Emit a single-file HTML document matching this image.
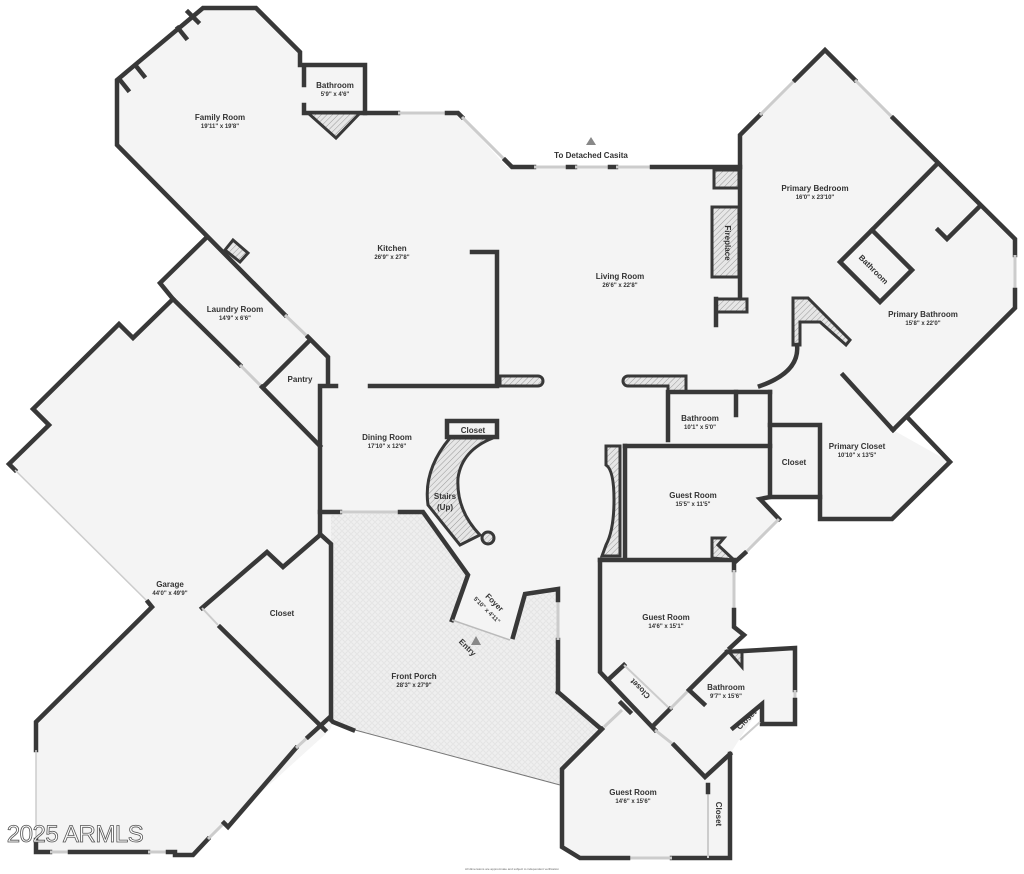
<!DOCTYPE html>
<html><head><meta charset="utf-8"><style>
html,body{margin:0;padding:0;background:#fff;}
svg{display:block;}
text{font-family:"Liberation Sans",sans-serif;fill:#333;text-anchor:middle;}
.t{font-size:8px;font-weight:bold;}
.d{font-size:6px;font-weight:bold;}
.w{fill:none;stroke:#383838;stroke-width:4.5;stroke-linejoin:miter;stroke-linecap:square;}
.win{fill:none;stroke:#ccc;stroke-width:3;}
.h{fill:url(#hatch);stroke:#383838;stroke-width:3;}
</style></head><body>
<svg width="1024" height="874" viewBox="0 0 1024 874" xmlns="http://www.w3.org/2000/svg">
<defs>
<pattern id="hatch" width="4" height="4" patternUnits="userSpaceOnUse" patternTransform="rotate(45)">
<rect width="4" height="4" fill="#e6e6e6"/><line x1="0" y1="0" x2="0" y2="4" stroke="#999" stroke-width="1"/></pattern>
<pattern id="dots" width="6" height="6" patternUnits="userSpaceOnUse">
<rect width="6" height="6" fill="#efefef"/><circle cx="3" cy="3" r="2.3" fill="none" stroke="#e0e0e0" stroke-width="0.8"/></pattern>
</defs>
<!-- floor -->
<polygon fill="#f4f4f4" points="203,8 256,8 300,52 300,65 365,65 365,113 458,113 507,167 740,167 740,135 825,50 1015,239 1015,308 893,430 950,462 892,519 820,519 820,497 770,497 760,499 779,519 734,560 734,627 744,635 730,648 795,648 795,724 762,724 762,704 730,754 730,858 580,858 562,847 562,769 560,785 355,730 333,722 330,730 193,854 36,852 36,722 152,607 148,602 15,470 9,464 49,425 33,409 119,324 133,338 173,299 160,283 207,237 117,145 117,80"/>
<polygon fill="url(#dots)" points="331,515 423,512 468,575 452,620 510,640 525,594 558,589 558,692 600,728 562,769 560,785 355,730 333,722"/>
<!-- outer walls -->
<polyline class="w" points="300,65 300,52 256,8 203,8 117,80 117,145 285,315"/>
<line x1="285" y1="315" x2="308" y2="337" class="win"/>
<polyline class="w" points="308,337 328,357 328,385"/>
<polyline class="w" points="365,113 398,113"/><line x1="398" y1="113" x2="447" y2="113" class="win"/><polyline class="w" points="447,113 458,113 462,117"/>
<line x1="462" y1="117" x2="505" y2="160" class="win"/>
<polyline class="w" points="505,160 512,167 534,167"/><line x1="534" y1="167" x2="568" y2="167" class="win"/>
<polyline class="w" points="568,167 575,167"/><line x1="575" y1="167" x2="610" y2="167" class="win"/><polyline class="w" points="610,167 616,167"/><line x1="616" y1="167" x2="652" y2="167" class="win"/>
<polyline class="w" points="652,167 740,167 740,298"/>
<polyline class="w" points="740,167 740,135 760,115"/><line x1="760" y1="115" x2="795" y2="80" class="win"/>
<polyline class="w" points="795,80 825,50 855,80"/><line x1="855" y1="80" x2="893" y2="118" class="win"/>
<polyline class="w" points="893,118 1015,239 1015,255"/><line x1="1015" y1="255" x2="1015" y2="290" class="win"/>
<polyline class="w" points="1015,290 1015,308 893,430"/>
<polyline class="w" points="908,418 950,462 892,519 820,519 820,425 770,425"/>
<polyline class="w" points="770,392 770,497 820,497"/>
<polyline class="w" points="770,497 760,499 779,519"/><line x1="779" y1="519" x2="745" y2="553" class="win"/>
<polyline class="w" points="745,553 734,563 734,570"/><line x1="734" y1="570" x2="734" y2="610" class="win"/>
<polyline class="w" points="734,610 734,627 744,635 730,648"/>
<polyline class="w" points="727,652 795,648 795,690"/><line x1="795" y1="690" x2="795" y2="700" class="win"/>
<polyline class="w" points="795,700 795,724 762,724 762,704 733,728"/>
<polyline class="w" points="730,754 730,858 672,858"/>
<line x1="628" y1="858" x2="672" y2="858" class="win"/>
<polyline class="w" points="628,858 580,858 562,847 562,769 602,729"/>
<line x1="604" y1="727" x2="622" y2="710" class="win"/>
<line x1="621" y1="703" x2="630" y2="712" class="w"/>
<line x1="600" y1="728" x2="558" y2="692" class="w"/>
<polyline class="w" points="558,692 558,640"/><line x1="558" y1="640" x2="558" y2="600" class="win"/>
<polyline class="w" points="558,600 558,589 525,594 513,637"/>
<line x1="355" y1="730" x2="560" y2="785" stroke="#777" stroke-width="1"/>
<polyline class="w" points="353,730 333,722 331,720 331,544 320,534 320,386 336,386"/>
<!-- garage -->
<polyline class="w" points="173,299 160,283 207,237"/>
<polyline class="w" points="173,299 240,365"/><line x1="240" y1="365" x2="262" y2="387" class="win"/>
<polyline class="w" points="262,387 320,446"/>
<polyline class="w" points="173,299 133,338 119,324 33,409 49,425 9,464 15,470"/>
<line x1="15" y1="470" x2="148" y2="602" stroke="#ccc" stroke-width="1.5"/>
<polyline class="w" points="148,602 152,607 36,722 36,750"/>
<line x1="36" y1="750" x2="36" y2="852" stroke="#ccc" stroke-width="1.5"/>
<polyline class="w" points="36,840 36,852 50,852"/><line x1="50" y1="852" x2="70" y2="852" class="win"/>
<polyline class="w" points="70,852 148,852"/><line x1="148" y1="852" x2="168" y2="852" class="win"/>
<polyline class="w" points="168,852 175,852 175,855 193,855 208,839"/><line x1="208" y1="839" x2="224" y2="823" class="win"/>
<polyline class="w" points="224,823 228,827 296,748"/><line x1="296" y1="748" x2="308" y2="737" class="win"/>
<polyline class="w" points="308,737 330,717"/>
<polyline class="w" points="202,608 267,552 283,567 320,535"/>
<line x1="202" y1="608" x2="218" y2="625" stroke="#ccc" stroke-width="2"/>
<polyline class="w" points="220,627 325,730"/>
<!-- family bathroom -->
<polyline class="w" points="304,85 304,65 365,65 365,113 304,113 304,105"/>
<polygon class="h" points="308,113 360,113 336,138"/>
<line x1="188" y1="12" x2="198" y2="22" class="w"/><line x1="178" y1="28" x2="186" y2="38" class="w"/><line x1="136" y1="66" x2="144" y2="76" class="w"/><line x1="120" y1="80" x2="128" y2="90" class="w"/>
<polygon class="h" points="225,250 233,240 248,253 240,262"/>
<!-- laundry/pantry -->
<polyline class="w" points="263,387 310,340"/>
<!-- kitchen -->
<polyline class="w" points="472,252 497,252 497,386 370,386"/>
<path class="h" d="M500,376 H538 A5,5 0 0 1 538,386 H500 Z"/>
<path class="h" d="M628,376 H686 V392 H668 V386 H628 A5,5 0 0 1 628,376 Z"/>
<polyline class="w" points="668,440 668,392 770,392"/>
<line x1="736" y1="392" x2="736" y2="415" class="w"/>
<!-- fireplace -->
<rect x="714" y="170" width="25" height="18" class="h"/>
<rect x="712" y="207" width="27" height="70" class="h"/>
<rect x="716" y="299" width="31" height="13" class="h"/>
<line x1="716" y1="299" x2="716" y2="325" class="w"/>
<!-- primary area -->
<polyline class="w" points="937,164 872,230"/>
<polyline class="w" points="979,207 947,239 938,230"/>
<polygon class="w" points="872,230 840,262 880,302 912,270" fill="none"/>
<path class="h" d="M793,298 H808 L850,340 L846,345 L820,322 H800 V345 H793 Z"/>
<path d="M797,345 Q800,372 760,386" class="w"/>
<line x1="843" y1="375" x2="893" y2="430" class="w"/>
<!-- guest room 1 -->
<polyline class="w" points="625,446 770,446"/>
<line x1="625" y1="446" x2="625" y2="558" class="w"/>
<path class="h" d="M606,446 H620 V556 H602 L606,545 Q614,530 614,500 Q614,470 606,465 Z"/>
<polyline class="w" points="600,560 734,560"/>
<path class="h" d="M712,558 V538 H724 L718,545 L734,560 Z"/>
<!-- guest room 2 -->
<polyline class="w" points="600,560 600,672 655,730"/>
<line x1="655" y1="730" x2="674" y2="745" class="win"/>
<polyline class="w" points="674,745 705,777 730,754"/>
<polyline class="w" points="609,679 624,665"/>
<line x1="624" y1="665" x2="670" y2="709" stroke="#ccc" stroke-width="2"/>
<polyline class="w" points="655,724 670,709"/>
<line x1="670" y1="709" x2="689" y2="690" class="win"/>
<polyline class="w" points="704,704 689,690 727,652"/>
<path class="h" d="M729,652 H742 V667 Z"/>
<line x1="740" y1="740" x2="760" y2="722" stroke="#ccc" stroke-width="2"/>
<line x1="708" y1="790" x2="708" y2="858" stroke="#ccc" stroke-width="2"/>
<line x1="708" y1="785" x2="708" y2="792" class="w"/>
<!-- dining -->
<polyline class="w" points="320,512 340,512"/><line x1="340" y1="512" x2="400" y2="512" class="win"/><polyline class="w" points="400,512 423,512 468,575 452,620"/>
<line x1="452" y1="620" x2="510" y2="640" stroke="#bbb" stroke-width="1.5"/>
<!-- stairs -->
<path class="h" d="M450,438 Q423,470 428,505 L460,545 L480,535 Q456,510 458,478 Q462,450 493,438 Z"/>
<circle cx="488" cy="538" r="6" class="h"/>
<polyline class="w" points="447,437 447,421 497,421 497,437 447,437"/>
<polygon fill="#888" points="591,137 586,145 596,145"/>
<polygon fill="#888" points="476,636 471,645 481,645"/>
<!-- labels -->
<text x="220" y="120" class="t">Family Room</text><text x="220" y="128" class="d">19'11" x 19'8"</text>
<text x="335" y="88" class="t">Bathroom</text><text x="335" y="96" class="d">5'9" x 4'6"</text>
<text x="591" y="158" class="t">To Detached Casita</text>
<text x="392" y="251" class="t">Kitchen</text><text x="392" y="259" class="d">26'9" x 27'8"</text>
<text x="620" y="279" class="t">Living Room</text><text x="620" y="287" class="d">26'6" x 22'8"</text>
<text x="815" y="191" class="t">Primary Bedroom</text><text x="815" y="199" class="d">16'0" x 23'10"</text>
<text x="727" y="245" class="t" transform="rotate(90 727 243)">Fireplace</text>
<text x="873" y="272" class="t" transform="rotate(45 873 270)">Bathroom</text>
<text x="923" y="317" class="t">Primary Bathroom</text><text x="923" y="325" class="d">15'8" x 22'0"</text>
<text x="235" y="312" class="t">Laundry Room</text><text x="235" y="320" class="d">14'9" x 6'6"</text>
<text x="300" y="382" class="t">Pantry</text>
<text x="387" y="440" class="t">Dining Room</text><text x="387" y="448" class="d">17'10" x 12'6"</text>
<text x="473" y="433" class="t">Closet</text>
<text x="445" y="499" class="t">Stairs</text><text x="445" y="510" class="t">(Up)</text>
<text x="700" y="421" class="t">Bathroom</text><text x="700" y="429" class="d">10'1" x 5'0"</text>
<text x="857" y="449" class="t">Primary Closet</text><text x="857" y="457" class="d">10'10" x 13'5"</text>
<text x="794" y="465" class="t">Closet</text>
<text x="693" y="498" class="t">Guest Room</text><text x="693" y="506" class="d">15'5" x 11'5"</text>
<text x="170" y="587" class="t">Garage</text><text x="170" y="595" class="d">44'0" x 49'9"</text>
<text x="282" y="616" class="t">Closet</text>
<text x="494" y="605" class="t" transform="rotate(45 494 603)">Foyer</text>
<text x="487" y="612" class="d" transform="rotate(45 487 610)">5'10" x 4'11"</text>
<text x="467" y="650" class="t" transform="rotate(45 467 648)">Entry</text>
<text x="414" y="679" class="t">Front Porch</text><text x="414" y="687" class="d">28'3" x 27'9"</text>
<text x="666" y="620" class="t">Guest Room</text><text x="666" y="628" class="d">14'6" x 15'1"</text>
<text x="726" y="690" class="t">Bathroom</text><text x="726" y="698" class="d">9'7" x 15'6"</text>
<text x="640" y="692" class="t" transform="rotate(225 640 689)">Closet</text>
<text x="747" y="722" class="t" transform="rotate(-45 747 720)">Closet</text>
<text x="633" y="795" class="t">Guest Room</text><text x="633" y="803" class="d">14'6" x 15'6"</text>
<text x="718" y="816" class="t" transform="rotate(90 718 814)">Closet</text>
<text x="75" y="842" style="font-size:24px;fill:#fff;stroke:#555;stroke-width:0.8;text-anchor:middle;letter-spacing:-0.5px">2025 ARMLS</text>
<text x="512" y="870" style="font-size:3px;fill:#666">All dimensions are approximate and subject to independent verification</text>
</svg>
</body></html>
